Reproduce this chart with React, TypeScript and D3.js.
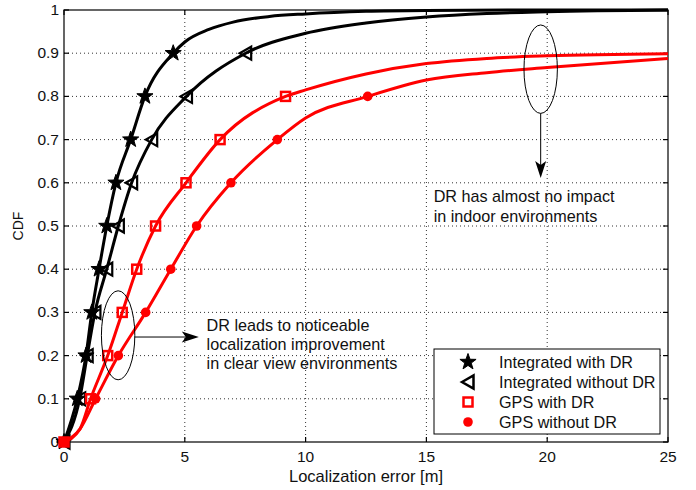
import { useEffect, useRef } from 'react'
import * as d3 from 'd3'

// CDF levels where markers are placed
const cdfLevels = [0, 0.1, 0.2, 0.3, 0.4, 0.5, 0.6, 0.7, 0.8, 0.9]

// localization error [m] at which each curve reaches the marked levels
const intWithDrX = [0, 0.55, 0.91, 1.15, 1.45, 1.77, 2.15, 2.76, 3.35, 4.52]
const intWithoutDrX = [0, 0.65, 0.96, 1.28, 1.77, 2.25, 2.8, 3.63, 5.07, 7.52]
const gpsWithDrX = [0, 1.1, 1.81, 2.41, 3.01, 3.79, 5.05, 6.46, 9.17]
const gpsWithoutDrX = [0, 1.31, 2.25, 3.38, 4.42, 5.49, 6.91, 8.83, 12.57]

// other points (no markers)
const intWithDrRest = [[5, 0.926], [6, 0.955], [7, 0.972], [8.5, 0.985], [10, 0.991], [12.5, 0.997], [15, 0.999], [20, 1], [25, 1]]
const intWithoutDrRest = [[10, 0.946], [12.5, 0.97], [15, 0.984], [17.5, 0.992], [20, 0.996], [25, 1]]
const gpsWithDrRest = [[0.66, 0.03], [10, 0.815], [12.5, 0.852], [15, 0.876], [17.5, 0.888], [20, 0.894], [25, 0.899]]
const gpsWithoutDrRest = [[0.66, 0.03], [10, 0.75], [15, 0.838], [17.5, 0.855], [20, 0.867], [25, 0.888]]

const seriesNames = ['Integrated with DR', 'Integrated without DR', 'GPS with DR', 'GPS without DR']
const xTicks = [0, 5, 10, 15, 20, 25]
const yTicks = [0, 0.1, 0.2, 0.3, 0.4, 0.5, 0.6, 0.7, 0.8, 0.9, 1]

const FONT = '"Liberation Sans", Arial, Helvetica, sans-serif'

const starPath = (r: number) => {
  const pts: string[] = []
  for (let i = 0; i < 10; i++) {
    const rad = i % 2 === 0 ? r : r * 0.4
    const a = -Math.PI / 2 + (i * Math.PI) / 5
    pts.push(`${(rad * Math.cos(a)).toFixed(2)},${(rad * Math.sin(a)).toFixed(2)}`)
  }
  return 'M' + pts.join('L') + 'Z'
}

const App = () => {
  const svgRef = useRef<SVGSVGElement>(null)

  useEffect(() => {
    const W = 696
    const H = 490
    const left = 64
    const right = 668
    const top = 10
    const bottom = 442

    const svg = d3.select(svgRef.current)
    svg.selectAll('*').remove()
    svg.attr('width', W).attr('height', H).style('font-family', FONT)

    svg.append('rect').attr('width', W).attr('height', H).attr('fill', '#fff')

    const x = d3.scaleLinear().domain([0, 25]).range([left, right])
    const y = d3.scaleLinear().domain([0, 1]).range([bottom, top])

    // grid
    const grid = svg.append('g')
      .attr('stroke', '#333')
      .attr('stroke-width', 1)
      .attr('stroke-dasharray', '1,3')
    xTicks.slice(1, -1).forEach(t => {
      grid.append('line').attr('x1', x(t)).attr('x2', x(t)).attr('y1', top).attr('y2', bottom)
    })
    yTicks.slice(1, -1).forEach(t => {
      grid.append('line').attr('y1', y(t)).attr('y2', y(t)).attr('x1', left).attr('x2', right)
    })

    // box + inner ticks
    const axes = svg.append('g').attr('stroke', '#000').attr('stroke-width', 1.2)
    axes.append('rect')
      .attr('x', left).attr('y', top)
      .attr('width', right - left).attr('height', bottom - top)
      .attr('fill', 'none')
    const tl = 5
    xTicks.forEach(t => {
      axes.append('line').attr('x1', x(t)).attr('x2', x(t)).attr('y1', bottom).attr('y2', bottom - tl)
      axes.append('line').attr('x1', x(t)).attr('x2', x(t)).attr('y1', top).attr('y2', top + tl)
    })
    yTicks.forEach(t => {
      axes.append('line').attr('y1', y(t)).attr('y2', y(t)).attr('x1', left).attr('x2', left + tl)
      axes.append('line').attr('y1', y(t)).attr('y2', y(t)).attr('x1', right).attr('x2', right - tl)
    })

    // tick labels
    svg.append('g').selectAll('text').data(xTicks).enter().append('text')
      .attr('x', d => x(d)).attr('y', bottom + 20)
      .attr('text-anchor', 'middle').attr('font-size', 15.5).attr('fill', '#111')
      .text(d => String(d))
    svg.append('g').selectAll('text').data(yTicks).enter().append('text')
      .attr('x', left - 5).attr('y', d => y(d) + 5)
      .attr('text-anchor', 'end').attr('font-size', 15.5).attr('fill', '#111')
      .text(d => String(d))

    svg.append('text')
      .attr('x', (left + right) / 2).attr('y', bottom + 40)
      .attr('text-anchor', 'middle').attr('font-size', 16.5).attr('fill', '#111')
      .text('Localization error [m]')
    svg.append('text')
      .attr('transform', `translate(23,${(top + bottom) / 2}) rotate(-90)`)
      .attr('text-anchor', 'middle').attr('font-size', 14).attr('fill', '#111')
      .text('CDF')

    // series
    const build = (xs: number[], rest: number[][]) => {
      const marks = xs.map((v, i) => [v, cdfLevels[i]])
      const all = marks.concat(rest).sort((a, b) => a[0] - b[0])
      return { marks, all }
    }
    const series = [
      { ...build(intWithDrX, intWithDrRest), color: '#000', marker: 'star' },
      { ...build(intWithoutDrX, intWithoutDrRest), color: '#000', marker: 'tri' },
      { ...build(gpsWithDrX, gpsWithDrRest), color: '#f00', marker: 'square' },
      { ...build(gpsWithoutDrX, gpsWithoutDrRest), color: '#f00', marker: 'circle' }
    ]

    const line = d3.line<number[]>()
      .x(d => x(d[0]))
      .y(d => y(d[1]))
      .curve(d3.curveMonotoneX)

    const drawMarker = (g: d3.Selection<SVGGElement, unknown, null, undefined>, kind: string, color: string, cx: number, cy: number) => {
      if (kind === 'star') {
        g.append('path').attr('d', starPath(8.5)).attr('transform', `translate(${cx},${cy})`)
          .attr('fill', color).attr('stroke', color).attr('stroke-width', 1)
      } else if (kind === 'tri') {
        g.append('path').attr('d', 'M-6,0L5.5,-6.5L5.5,6.5Z').attr('transform', `translate(${cx},${cy})`)
          .attr('fill', 'none').attr('stroke', color).attr('stroke-width', 2.2)
      } else if (kind === 'square') {
        g.append('rect').attr('x', cx - 4.5).attr('y', cy - 4.5).attr('width', 9).attr('height', 9)
          .attr('fill', 'none').attr('stroke', color).attr('stroke-width', 2.5)
      } else {
        g.append('circle').attr('cx', cx).attr('cy', cy).attr('r', 4.8).attr('fill', color)
      }
    }

    series.forEach(s => {
      const g = svg.append('g')
      g.append('path')
        .datum(s.all)
        .attr('fill', 'none')
        .attr('stroke', s.color)
        .attr('stroke-width', 3)
        .attr('stroke-linejoin', 'round')
        .attr('d', line)
      s.marks.forEach(m => drawMarker(g, s.marker, s.color, x(m[0]), y(m[1])))
    })

    // annotations
    const ann = svg.append('g').attr('stroke', '#000').attr('fill', 'none').attr('stroke-width', 1)
    ann.append('ellipse').attr('cx', x(2.24)).attr('cy', y(0.247)).attr('rx', 16.7).attr('ry', 44.5)
    ann.append('line').attr('x1', x(2.24) + 16.7).attr('x2', x(5.3)).attr('y1', y(0.243)).attr('y2', y(0.243))
    ann.append('path')
      .attr('d', `M${x(5.58)},${y(0.243)}l-17,-5.5l4,5.5l-4,5.5z`)
      .attr('fill', '#000').attr('stroke', 'none')

    ann.append('ellipse').attr('cx', x(19.73)).attr('cy', y(0.863)).attr('rx', 16.7).attr('ry', 44.2)
    ann.append('line').attr('x1', x(19.73)).attr('x2', x(19.73)).attr('y1', y(0.863) + 44.2).attr('y2', y(0.63))
    ann.append('path')
      .attr('d', `M${x(19.73)},${y(0.611)}l-5.5,-17l5.5,4l5.5,-4z`)
      .attr('fill', '#000').attr('stroke', 'none')

    const note1 = ['DR leads to noticeable', 'localization improvement', 'in clear view environments']
    note1.forEach((t, i) => {
      svg.append('text').attr('x', x(5.9)).attr('y', 331 + i * 19)
        .attr('font-size', 16.2).attr('fill', '#111').text(t)
    })
    const note2 = ['DR has almost no impact', 'in indoor environments']
    note2.forEach((t, i) => {
      svg.append('text').attr('x', x(15.3)).attr('y', 202 + i * 19.5)
        .attr('font-size', 16.2).attr('fill', '#111').text(t)
    })

    // legend
    const lg = svg.append('g')
    lg.append('rect').attr('x', 434).attr('y', 349).attr('width', 226).attr('height', 85)
      .attr('fill', '#fff').attr('stroke', '#000').attr('stroke-width', 1)
    series.forEach((s, i) => {
      const cy = 362 + i * 20
      if (s.marker === 'tri') {
        lg.append('path').attr('d', 'M-6,0L5.5,-6.5L5.5,6.5Z').attr('transform', `translate(468,${cy})`)
          .attr('fill', '#fff').attr('stroke', '#000').attr('stroke-width', 2.5)
      } else if (s.marker === 'square') {
        lg.append('rect').attr('x', 468 - 4.5).attr('y', cy - 4.5).attr('width', 9).attr('height', 9)
          .attr('fill', '#fff').attr('stroke', '#f00').attr('stroke-width', 2.5)
      } else {
        drawMarker(lg, s.marker, s.color, 468, cy)
      }
      lg.append('text').attr('x', 499).attr('y', cy + 5.5)
        .attr('font-size', 16.2).attr('fill', '#111').text(seriesNames[i])
    })
  }, [])

  return (
    <div style={{ position: 'absolute', left: 0, top: 0 }}>
      <svg ref={svgRef} style={{ display: 'block' }}></svg>
    </div>
  )
}

export default App
